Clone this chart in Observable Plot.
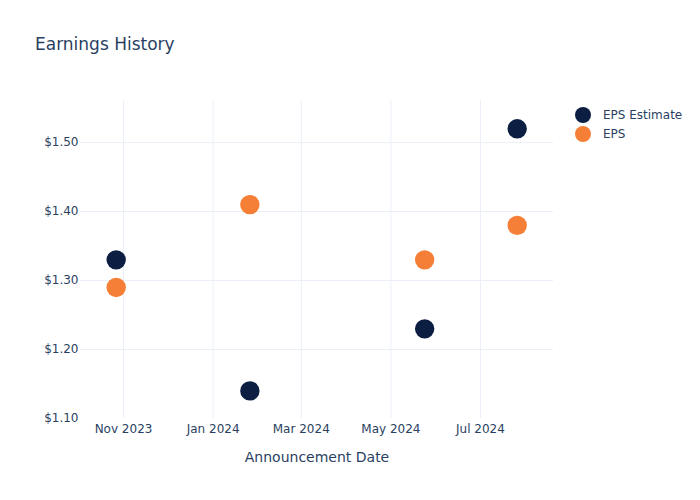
<!DOCTYPE html>
<html>
<head>
<meta charset="utf-8">
<script src="https://cdn.jsdelivr.net/npm/d3@7"></script>
<script src="https://cdn.jsdelivr.net/npm/@observablehq/plot@0.6"></script>
<style>
  html, body { margin: 0; padding: 0; background: #fff; }
  #wrap { position: relative; width: 700px; height: 500px; font-family: "DejaVu Sans", Verdana, sans-serif; }
  #title { position: absolute; left: 35px; top: 34px; font-size: 17px; color: #2a3f5f; }
  #legend { position: absolute; left: 574px; top: 105px; font-size: 12px; color: #2a3f5f; }
  .li { display: flex; align-items: center; height: 19px; }
  .li svg { margin-right: 11px; }
  #chart { position: absolute; left: 0; top: 0; }
</style>
</head>
<body>
<div id="wrap">
  <div id="chart"></div>
  <div id="title">Earnings History</div>
  <div id="legend"></div>
</div>
<script>
const dates = ["2023-10-27", "2024-01-26", "2024-05-24", "2024-07-26"];
const epsEstimate = [1.33, 1.14, 1.23, 1.52];
const eps = [1.29, 1.41, 1.33, 1.38];
const seriesNames = ["EPS Estimate", "EPS"];
const seriesColors = ["#0c1f43", "#f57f36"];
const xTicks = ["2023-11-01", "2024-01-01", "2024-03-01", "2024-05-01", "2024-07-01"];
const yTicks = [1.10, 1.20, 1.30, 1.40, 1.50];

const rows = [];
dates.forEach((d, i) => {
  rows.push({date: new Date(d), value: epsEstimate[i], series: seriesNames[0]});
});
dates.forEach((d, i) => {
  rows.push({date: new Date(d), value: eps[i], series: seriesNames[1]});
});

const chart = Plot.plot({
  width: 700,
  height: 500,
  marginTop: 100,
  marginBottom: 82,
  marginLeft: 80,
  marginRight: 147,
  style: {fontFamily: "DejaVu Sans, Verdana, sans-serif", fontSize: "12px", color: "#2a3f5f", background: "#fff"},
  x: {
    type: "utc",
    domain: [new Date("2023-10-02T17:00Z"), new Date("2024-08-19T17:00Z")],
    ticks: xTicks.map(d => new Date(d)),
    tickFormat: d3.utcFormat("%b %Y"),
    label: null
  },
  y: {
    domain: [1.10, 1.561],
    ticks: yTicks,
    tickFormat: d => "$" + d.toFixed(2),
    label: null
  },
  color: {domain: seriesNames, range: seriesColors},
  marks: [
    Plot.gridX(xTicks.map(d => new Date(d)), {stroke: "#ebf0f8", strokeOpacity: 1}),
    Plot.gridY(yTicks.slice(1), {stroke: "#ebf0f8", strokeOpacity: 1}),
    Plot.axisX({ticks: xTicks.map(d => new Date(d)), tickFormat: d3.utcFormat("%b %Y"), tickSize: 0, tickPadding: 6, fill: "#2a3f5f", label: null}),
    Plot.axisY({ticks: yTicks, tickFormat: d => "$" + d.toFixed(2), tickSize: 0, tickPadding: 2, fill: "#2a3f5f", label: null}),
    Plot.text(["Announcement Date"], {frameAnchor: "bottom", dy: 43, fontSize: 14, fill: "#2a3f5f"}),
    Plot.dot(rows, {x: "date", y: "value", fill: "series", r: 9.7, stroke: null})
  ]
});
document.getElementById("chart").appendChild(chart);

const legend = document.getElementById("legend");
seriesNames.forEach((n, i) => {
  const row = document.createElement("div");
  row.className = "li";
  row.innerHTML = `<svg width="18" height="18"><circle cx="9" cy="9" r="8" fill="${seriesColors[i]}"></circle></svg><span>${n}</span>`;
  legend.appendChild(row);
});
</script>
</body>
</html>
